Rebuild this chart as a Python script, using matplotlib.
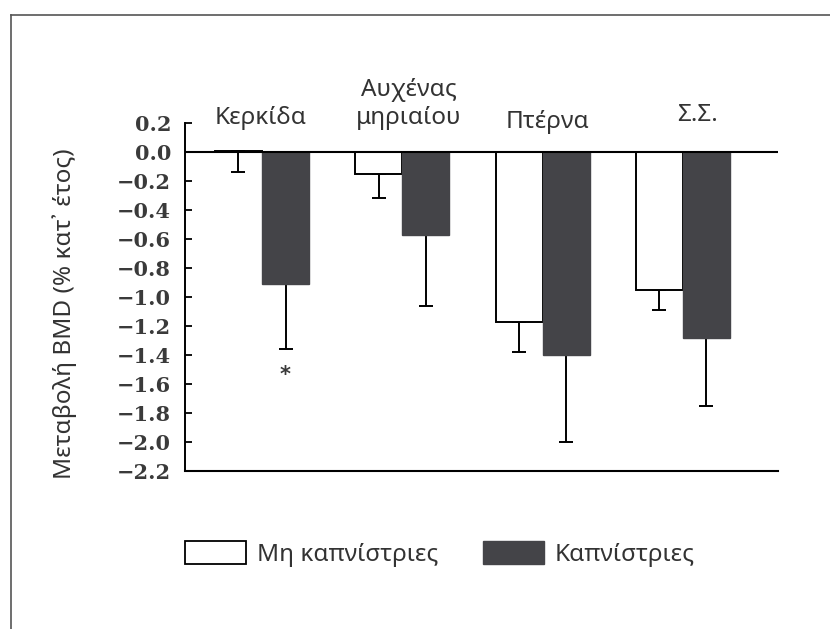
import numpy as np
import matplotlib.pyplot as plt
from matplotlib.patches import Patch

# δεδομένα (μεταβολή BMD, % κατ' έτος)
sites = ['Κερκίδα', 'Αυχένας\nμηριαίου', 'Πτέρνα', 'Σ.Σ.']
nonsmokers = [0.01, -0.15, -1.17, -0.95]
nonsmokers_err_end = [-0.14, -0.32, -1.38, -1.09]
smokers = [-0.91, -0.57, -1.40, -1.28]
smokers_err_end = [-1.36, -1.06, -2.00, -1.75]
star_y = -1.54
yticks = [0.2, 0.0, -0.2, -0.4, -0.6, -0.8, -1.0, -1.2, -1.4, -1.6, -1.8, -2.0, -2.2]
ytick_labels = ['0.2', '0.0', '−0.2', '−0.4', '−0.6', '−0.8', '−1.0',
                '−1.2', '−1.4', '−1.6', '−1.8', '−2.0', '−2.2']

txt_col = '#333333'
dark = '#444448'
w = 0.335
sans = 'Noto Sans'
fs = 17.5

fig = plt.figure(figsize=(8.3, 6.29), dpi=100)
ax = fig.add_axes([185/830, 1-471/629, (778-185)/830, 348/629])

x = np.arange(len(sites))
xn = x - w/2
xs = x + w/2
ax.bar(xn, nonsmokers, w, color='white', edgecolor='black', linewidth=1.4, zorder=3)
ax.bar(xs, smokers, w, color=dark, edgecolor=dark, linewidth=1.0, zorder=3)

lo_n = np.array(nonsmokers) - np.array(nonsmokers_err_end)
lo_s = np.array(smokers) - np.array(smokers_err_end)
ax.errorbar(xn, nonsmokers, yerr=[lo_n, np.zeros(4)], fmt='none', ecolor='black',
            elinewidth=1.4, capsize=5, capthick=1.4, zorder=2)
ax.errorbar(xs, smokers, yerr=[lo_s, np.zeros(4)], fmt='none', ecolor='black',
            elinewidth=1.4, capsize=5, capthick=1.4, zorder=2)

ax.axhline(0, color='black', lw=1.5, zorder=4)
ax.text(xs[0], star_y, '*', ha='center', va='center', fontsize=15,
        color='#3a3a3a', fontweight='bold', family='DejaVu Sans')

ax.set_xlim((185-262)/140.3, (778-262)/140.3)
ax.set_ylim(-2.2, 0.2)
ax.set_xticks([])
ax.set_yticks(yticks)
ax.set_yticklabels(ytick_labels, family='DejaVu Serif', fontweight='bold',
                   fontsize=15, color='#3a3a3a')
ax.tick_params(axis='y', direction='in', length=5, width=1.3, pad=10)
for s in ['top', 'right']:
    ax.spines[s].set_visible(False)
ax.spines['left'].set_linewidth(1.4)
ax.spines['bottom'].set_linewidth(1.5)

# τίτλοι κατηγοριών πάνω από τις ράβδους
lab_x = [261, 409, 548, 697]
lab_y = [118, 104, 122, 115]
for s, px, py in zip(sites, lab_x, lab_y):
    fig.text(px/830, 1-py/629, s, ha='center', va='center', fontsize=fs,
             color=txt_col, family=sans, linespacing=1.25)

fig.text(65/830, 1-314/629, 'Μεταβολή BMD (% κατ᾽ έτος)', rotation=90,
         ha='center', va='center', fontsize=fs, color=txt_col, family=sans)

handles = [Patch(facecolor='white', edgecolor='black', linewidth=1.3),
           Patch(facecolor=dark, edgecolor=dark)]
fig.legend(handles, ['Μη καπνίστριες', 'Καπνίστριες'], loc='center left',
           bbox_to_anchor=(185/830, 1-554/629), ncol=2, frameon=False,
           prop={'family': sans, 'size': fs}, labelcolor=txt_col,
           handlelength=2.5, handleheight=1.03, handletextpad=0.45,
           columnspacing=1.85, borderpad=0, borderaxespad=0)

# περίγραμμα σελίδας
fig.add_artist(plt.Line2D([11/830, 1], [1-15/629, 1-15/629], color='#555555', lw=1.2))
fig.add_artist(plt.Line2D([11/830, 11/830], [0, 1-15/629], color='#555555', lw=1.2))

fig.savefig('out.png', dpi=100)
